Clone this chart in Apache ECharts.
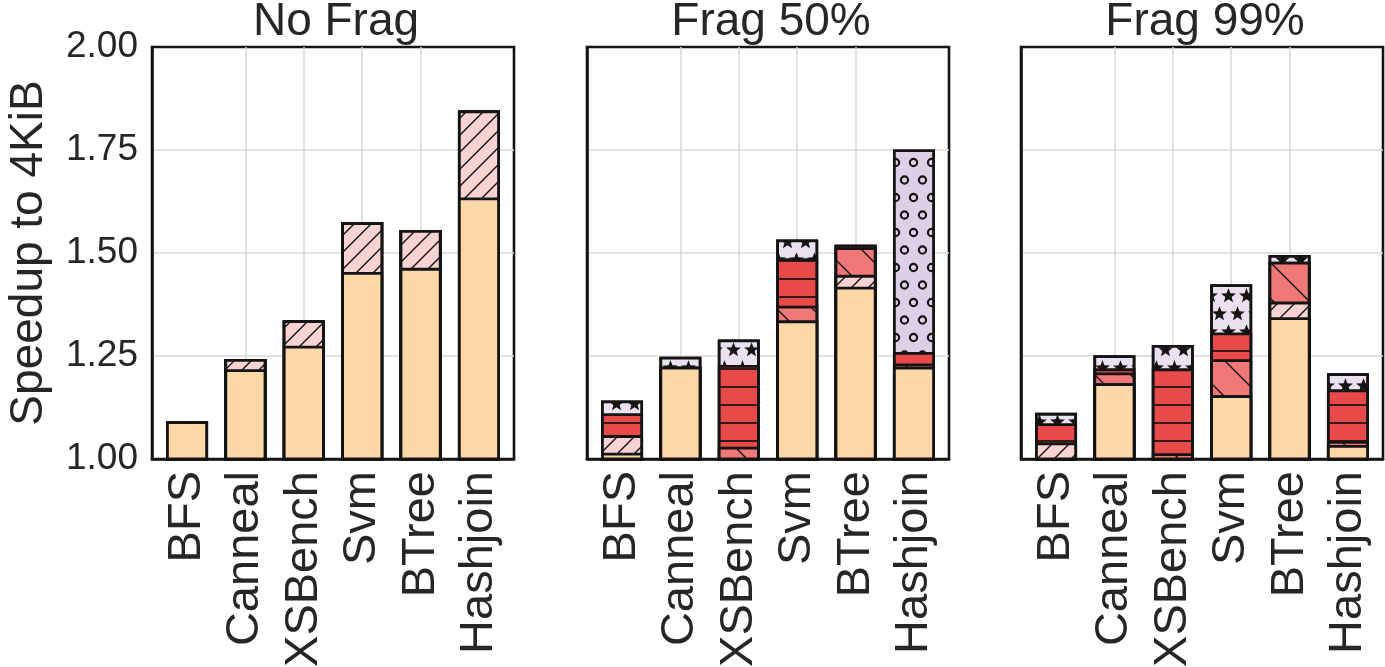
<!DOCTYPE html>
<html>
<head>
<meta charset="utf-8">
<title>Speedup to 4KiB</title>
<script src="https://cdn.jsdelivr.net/npm/echarts@6/dist/echarts.min.js"></script>
<style>
  html, body { margin: 0; padding: 0; background: #ffffff; }
  #chart { width: 1385px; height: 667px; }
</style>
</head>
<body>
<div id="chart"></div>
<script>
// ---- data ---------------------------------------------------------------
const benchmarks = ['BFS', 'Canneal', 'XSBench', 'Svm', 'BTree', 'Hashjoin'];
const panelTitles = ['No Frag', 'Frag 50%', 'Frag 99%'];
const yTicks = [1.00, 1.25, 1.50, 1.75, 2.00];

// speedup of the base component, per benchmark
const baseNoFrag  = [1.092, 1.218, 1.275, 1.454, 1.464, 1.635];
const baseFrag50  = [1.015, 1.224, 1.000, 1.336, 1.418, 1.224];
const baseFrag99  = [1.000, 1.184, 1.000, 1.155, 1.344, 1.034];

// additional speedup of each stacked component, per benchmark
const slashNoFrag = [0.000, 0.025, 0.062, 0.121, 0.092, 0.211];
const slashFrag50 = [0.043, 0.000, 0.000, 0.000, 0.029, 0.000];
const slashFrag99 = [0.040, 0.000, 0.000, 0.000, 0.038, 0.000];

const backFrag50  = [0.000, 0.000, 0.030, 0.036, 0.067, 0.008];
const backFrag99  = [0.000, 0.026, 0.014, 0.087, 0.097, 0.010];

const dashFrag50  = [0.053, 0.000, 0.198, 0.115, 0.006, 0.028];
const dashFrag99  = [0.047, 0.010, 0.206, 0.065, 0.000, 0.125];

const starFrag50  = [0.031, 0.024, 0.062, 0.046, 0.000, 0.000];
const starFrag99  = [0.025, 0.032, 0.057, 0.117, 0.016, 0.039];

const ringFrag50  = [0.000, 0.000, 0.000, 0.000, 0.000, 0.492];

const zeros = [0, 0, 0, 0, 0, 0];

// layers bottom -> top for each panel
const panels = [
  [baseNoFrag, slashNoFrag, zeros,      zeros,      zeros,      zeros],
  [baseFrag50, slashFrag50, backFrag50, dashFrag50, starFrag50, ringFrag50],
  [baseFrag99, slashFrag99, backFrag99, dashFrag99, starFrag99, zeros]
];
const layerNames = ['Base', 'Slash', 'Backslash', 'Dash', 'Star', 'Ring'];

// ---- hatch fills ----------------------------------------------------------
const INK = '#141414';
function tile(w, h, bg, draw) {
  const c = document.createElement('canvas');
  c.width = w; c.height = h;
  const g = c.getContext('2d');
  g.fillStyle = bg;
  g.fillRect(0, 0, w, h);
  g.strokeStyle = INK;
  g.fillStyle = INK;
  draw(g, w, h);
  return { image: c, repeat: 'repeat' };
}
function diag(g, s, dir, lw) {
  g.lineWidth = lw;
  for (let k = -1; k <= 1; k++) {
    g.beginPath();
    if (dir > 0) { g.moveTo(k * s - 1, s + 1); g.lineTo(k * s + s + 1, -1); }
    else { g.moveTo(k * s - 1, -1); g.lineTo(k * s + s + 1, s + 1); }
    g.stroke();
  }
}
function starPath(g, cx, cy, R, r) {
  g.beginPath();
  for (let i = 0; i < 10; i++) {
    const a = -Math.PI / 2 + i * Math.PI / 5;
    const rad = i % 2 === 0 ? R : r;
    const x = cx + rad * Math.cos(a), y = cy + rad * Math.sin(a);
    if (i === 0) g.moveTo(x, y); else g.lineTo(x, y);
  }
  g.closePath();
  g.fill();
}
function wrapped(w, h, pts, fn) {
  pts.forEach(([x, y]) => {
    for (let dx = -1; dx <= 1; dx++) for (let dy = -1; dy <= 1; dy++) fn(x + dx * w, y + dy * h);
  });
}

const fills = [
  '#FDD8A7',
  tile(17, 17, '#F9D2D2', (g, w) => diag(g, w, 1, 1.4)),
  tile(36, 36, '#F07876', (g, w) => diag(g, w, -1, 1.4)),
  tile(10, 18, '#E84A4A', (g, w) => { g.lineWidth = 1.7; g.beginPath(); g.moveTo(0, 9); g.lineTo(w, 9); g.stroke(); }),
  tile(18, 36, '#EAE0F0', (g, w, h) => wrapped(w, h, [[4.5, 8], [13.5, 26]], (x, y) => starPath(g, x, y, 7.8, 3.3))),
  tile(18, 35, '#DDD0E6', (g, w, h) => {
    g.lineWidth = 2.1;
    wrapped(w, h, [[4.5, 5], [13.5, 22.5]], (x, y) => { g.beginPath(); g.arc(x, y, 3.6, 0, Math.PI * 2); g.stroke(); });
  })
];

// ---- layout ---------------------------------------------------------------
const FONT = 'Liberation Sans';
const TEXT = '#262626';
const frames = [
  { left: 152, width: 362 },
  { left: 587, width: 362 },
  { left: 1021, width: 362 }
];
const TOP = 47, HEIGHT = 412;

const grid = [], xAxis = [], yAxis = [], series = [], title = [];

frames.forEach((f, p) => {
  grid.push({
    left: f.left, top: TOP, width: f.width, height: HEIGHT,
    outerBoundsMode: 'none', containLabel: false,
    show: true, borderColor: INK, borderWidth: 2.6, backgroundColor: 'transparent'
  });
  title.push({
    text: panelTitles[p],
    left: f.left + f.width / 2 - 2, top: -6, textAlign: 'center',
    textStyle: { fontFamily: FONT, fontSize: 46, fontWeight: 'normal', color: TEXT }
  });
  const ticks = benchmarks.map((_, i) => i);
  xAxis.push({
    type: 'value', gridIndex: p, min: -0.6, max: 5.6,
    axisLine: { show: true, onZero: false, lineStyle: { color: INK, width: 2.6 } },
    axisTick: { show: false, customValues: ticks },
    axisLabel: {
      customValues: ticks, formatter: v => benchmarks[Math.round(v)],
      rotate: 90, margin: 12, fontFamily: FONT, fontSize: 47, color: TEXT
    },
    splitLine: { show: true, showMinLine: false, showMaxLine: false, lineStyle: { color: '#d9d9d9', width: 1.5 } }
  });
  yAxis.push({
    type: 'value', gridIndex: p, min: yTicks[0], max: yTicks[yTicks.length - 1], interval: 0.25,
    name: p === 0 ? 'Speedup to 4KiB' : '',
    nameLocation: 'middle', nameRotate: 90, nameGap: 100,
    nameTextStyle: { fontFamily: FONT, fontSize: 46, color: TEXT },
    axisLine: { show: true, onZero: false, lineStyle: { color: INK, width: 2.6 } },
    axisTick: { show: false },
    axisLabel: {
      show: p === 0, formatter: v => v.toFixed(2), margin: 14,
      fontFamily: FONT, fontSize: 37, color: TEXT
    },
    splitLine: { show: true, showMinLine: false, showMaxLine: false, lineStyle: { color: '#d9d9d9', width: 1.5 } }
  });

  // cumulative tops of each layer
  const layers = panels[p];
  const cum = [];
  layers.forEach((arr, k) => {
    cum.push(arr.map((v, i) => (k === 0 ? v : cum[k - 1][i] + v)));
  });
  // draw the tallest layer first so each lower layer covers its lower part
  for (let k = layers.length - 1; k >= 0; k--) {
    series.push({
      type: 'bar', name: layerNames[k],
      xAxisIndex: p, yAxisIndex: p,
      barWidth: 42, barGap: '-100%',
      clip: true, silent: true,
      data: benchmarks.map((_, i) => [i, cum[k][i]]),
      itemStyle: { color: fills[k], borderColor: INK, borderWidth: 2.8 }
    });
  }
});

const chart = echarts.init(document.getElementById('chart'), null, { renderer: 'canvas' });
chart.setOption({ animation: false, backgroundColor: '#ffffff', title, grid, xAxis, yAxis, series });
</script>
</body>
</html>
